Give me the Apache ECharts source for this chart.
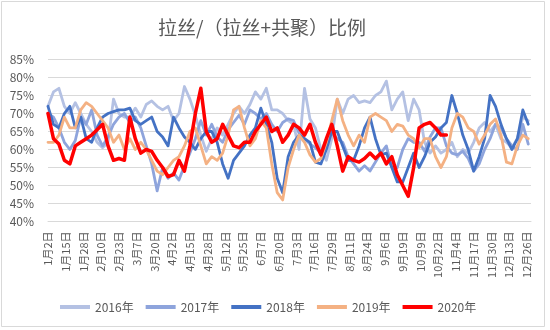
<!DOCTYPE html>
<html>
<head>
<meta charset="utf-8">
<script src="https://cdn.jsdelivr.net/npm/echarts@6/dist/echarts.min.js"></script>
<style>html,body{margin:0;padding:0;background:#fff}#c{width:550px;height:330px}</style>
</head>
<body>
<div id="c"></div>
<script>
// Tick labels (one every 13 daily categories)
var tickLabels = ['1月2日','1月15日','1月28日','2月10日','2月23日','3月7日','3月20日','4月2日','4月15日','4月28日','5月12日','5月25日','6月7日','6月20日','7月3日','7月16日','7月29日','8月11日','8月24日','9月6日','9月19日','10月9日','10月22日','11月4日','11月17日','11月30日','12月13日','12月26日'];
var CATEGORY_COUNT = 355;   // daily categories
var TICK_EVERY = 13;
var STEP = 4;               // values below are read every 4 categories

var seriesNames = ['2016年','2017年','2018年','2019年','2020年'];

var v2016 = [72,76,77,72,70,73,70,67,65,62,60.5,62,74,70,69,69,71.5,69,72.5,73.5,72,71,72,68,70,77.5,74,69.5,64,59.5,63,66,64,67,70,72,70,72.5,76,74,77,71,71,70,68,67,60,77,68.5,66,60,57,63,74,70,74,75,73,73.5,73,75,76,79,71,74,76,68,74,71,62,59,61,59,60,62,58,60,59,62,66,67.5,65,67,63,62,60.5,63,69,68];
var v2017 = [70,69,66,62,60,62.5,69,67,71,64,61,63.5,67,69,70,67.5,69,66,61,56,48.5,55,52,53.5,51.5,55.5,59,63,68,64,67,63.5,62,65.5,67.5,69.5,67,71,70,68.5,70,67,65,67.5,68.5,68,64.5,63,61.5,60.5,59,63,64.5,63,62,58,56,54,55.5,54,56.5,59,61,55,55,60,63,62,62,59.5,63.5,66,66,61,59,58.5,59.5,57.5,54,56,60,63,67,66,63,61,60,67,61.5];
var v2018 = [72,67,66,70,72,66,69,63,62,66,69,70,70.5,71,71,71.5,68,67,68,69,65,63.5,61,69,66,63.5,62,60,63,65,65,62,56,52,57,59,61,64,66,71.5,67,62,52,48,58,62,64,63,62,56.5,56,60,65,65,61,57,57,61,66,69,63,58.5,59,55,51,51,55,59,55,58,62,63.5,66,67.5,75,70,64,60,54,58,63,75,72,67,63,60,63,71,67];
var v2019 = [62,62,64,69,66,66,71,73,72,70,68,66,62,64,60,63,60,62,60,57,54,53,55,57,58,61,65,66,61,56,58,57,59,64,71,72,66,61,63,68,66,56,48,46,55,60,64,62,58.5,56.5,57.5,62,68,74,68,64,61,64,62,69,70,69,68,65,67,66.5,64,63,60.5,63,63,58,55,58,66,70,69,66,65,61.5,64,67,68.5,64,56.5,56,61,64,63];
var v2020 = [70,63,61.5,57,56,61,62,63,64,65.5,67,61,57,57.5,57,69,63,59,60,59.5,57,55,52.5,53,57,54,61,70,77,65,62,63,67,64,61,60.5,62,62,65,67,69,65,66,62,64,67,66,64,67,62,58.5,63,67,61,54,58,57,56.5,57.5,59,57.5,59,56,58,53,50,47,55,66,67,67.5,66,64,64];

var colors = ['#B4C1E3','#8EA4DC','#4472C4','#F4B183','#FF0000'];
var widths = [2.8,2.8,2.8,2.8,3.5];
var valueLists = [v2016, v2017, v2018, v2019, v2020];

var categories = [];
for (var i = 0; i < CATEGORY_COUNT; i++) categories.push(String(i));

function toPairs(vals) {
  return vals.map(function (v, k) { return [k * STEP, v]; });
}

var series = seriesNames.map(function (name, s) {
  return {
    name: name,
    type: 'line',
    data: toPairs(valueLists[s]),
    showSymbol: false,
    symbol: 'none',
    smooth: false,
    lineStyle: { color: colors[s], width: widths[s], join: 'round', cap: 'round' },
    itemStyle: { color: colors[s] },
    emphasis: { disabled: true },
    animation: false
  };
});

var FONT = '"Noto Sans CJK SC", "Noto Sans", sans-serif';
var chart = echarts.init(document.getElementById('c'), null, { renderer: 'canvas' });
chart.setOption({
  backgroundColor: '#ffffff',
  animation: false,
  textStyle: { fontFamily: FONT },
  title: {
    text: '拉丝/（拉丝+共聚）比例',
    left: 153, top: 13,
    textStyle: { fontFamily: FONT, fontSize: 19, fontWeight: 'normal', color: '#595959' }
  },
  graphic: [{
    type: 'rect', silent: true,
    shape: { x: 1.5, y: 1.5, width: 543, height: 325 },
    style: { fill: 'none', stroke: '#d9d9d9', lineWidth: 1 }
  }],
  legend: {
    data: seriesNames,
    left: 55, top: 296,
    icon: 'rect',
    itemWidth: 30, itemHeight: 4, itemGap: 12,
    textStyle: { fontFamily: FONT, fontSize: 12, color: '#595959' }
  },
  grid: { left: 48, right: 19, top: 59.5, bottom: 108.5, containLabel: false },
  xAxis: {
    type: 'category',
    data: categories,
    boundaryGap: false,
    axisLine: { show: true, lineStyle: { color: '#d9d9d9', width: 1 } },
    axisTick: { show: false },
    splitLine: { show: false },
    axisLabel: {
      interval: TICK_EVERY - 1,
      rotate: 90,
      margin: 10,
      fontSize: 11,
      color: '#595959',
      fontFamily: FONT,
      formatter: function (v, idx) { return tickLabels[Math.round(idx / TICK_EVERY)] || ''; }
    }
  },
  yAxis: {
    type: 'value',
    min: 40, max: 85, interval: 5,
    axisLine: { show: false },
    axisTick: { show: false },
    splitLine: { show: true, lineStyle: { color: '#d9d9d9', width: 1 } },
    axisLabel: { formatter: '{value}%', fontSize: 12, color: '#595959', margin: 14, fontFamily: FONT }
  },
  series: series
});
</script>
</body>
</html>
